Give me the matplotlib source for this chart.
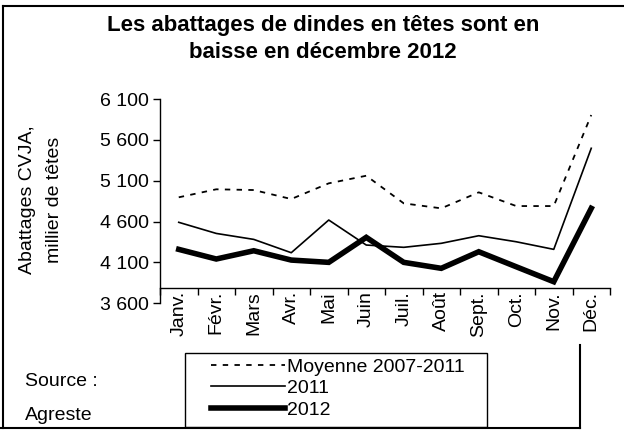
import matplotlib
matplotlib.use("Agg")
import matplotlib.pyplot as plt
from matplotlib.lines import Line2D
import numpy as np

months = ["Janv.", "Févr.", "Mars", "Avr.", "Mai", "Juin", "Juil.", "Août",
          "Sept.", "Oct.", "Nov.", "Déc."]
moyenne = [4897, 4995, 4986, 4876, 5068, 5161, 4823, 4762, 4958, 4790, 4790, 5904]
y2011 = [4591, 4455, 4382, 4219, 4619, 4313, 4285, 4334, 4427, 4353, 4260, 5497]
y2012 = [4260, 4142, 4243, 4129, 4101, 4407, 4101, 4028, 4231, 4047, 3864, 4762]
yticks = [3600, 4100, 4600, 5100, 5600, 6100]
ytick_labels = ["3 600", "4 100", "4 600", "5 100", "5 600", "6 100"]

plt.rcParams['font.family'] = ['Liberation Sans', 'DejaVu Sans']

W, H = 624, 433
fig = plt.figure(figsize=(W / 100, H / 100), dpi=100)

def fx(px):
    return px / W

def fy(py):
    return 1 - py / H

ax = fig.add_axes([fx(160), fy(303.3), fx(610) - fx(160), fy(99) - fy(303.3)])
for s in ['top', 'right']:
    ax.spines[s].set_visible(False)
ax.spines['bottom'].set_position(('data', 3783))
ax.spines['left'].set_linewidth(1)
ax.spines['bottom'].set_linewidth(1)

x = np.arange(len(months))
ax.plot(x, moyenne, color='black', lw=1.3, ls=(0, (3, 3.5)), label="Moyenne 2007-2011")
ax.plot(x, y2011, color='black', lw=1.2, label="2011")
ax.plot(x, y2012, color='black', lw=4, label="2012", solid_joinstyle='miter')

ax.set_xlim(-0.5, len(months) - 0.5)
ax.set_ylim(3600, 6100)
ax.set_yticks(yticks, labels=ytick_labels)
ax.set_xticks(x, labels=months)
ax.set_xticks(np.arange(len(months) + 1) - 0.5, minor=True)
ax.tick_params(axis='x', which='major', length=0, pad=2, labelrotation=90, labelsize=14)
ax.tick_params(axis='x', which='minor', length=5, width=1, direction='out')
ax.tick_params(axis='y', length=5, width=1, direction='out', pad=3, labelsize=14)

fig.text(fx(323), fy(39), "Les abattages de dindes en têtes sont en\nbaisse en décembre 2012",
         ha='center', va='center', fontsize=16, fontweight='bold', linespacing=1.35)

fig.text(fx(41), fy(200), "Abattages CVJA,\nmillier de têtes", rotation=90,
         ha='center', va='center', fontsize=14, linespacing=1.75, multialignment='center')

fig.text(fx(25), fy(381), "Source :", ha='left', va='center', fontsize=14)
fig.text(fx(25), fy(415), "Agreste", ha='left', va='center', fontsize=14)

# legend frame
fig.patches.append(plt.Rectangle((fx(185), fy(427)), fx(487) - fx(185), fy(353) - fy(427),
                                 transform=fig.transFigure, fill=False, edgecolor='black', lw=1))
leg = fig.legend(loc='upper left', bbox_to_anchor=(fx(211), fy(358)), frameon=False,
                 fontsize=14, handlelength=3.8, handletextpad=0.1, labelspacing=0.2,
                 borderpad=0, borderaxespad=0)

# outer frame
fig.add_artist(Line2D([fx(3), fx(W)], [fy(6), fy(6)], transform=fig.transFigure, color='black', lw=1.5))
fig.add_artist(Line2D([fx(3), fx(3)], [fy(6), fy(428)], transform=fig.transFigure, color='black', lw=1.5))
fig.add_artist(Line2D([fx(0), fx(580)], [fy(428), fy(428)], transform=fig.transFigure, color='black', lw=1.5))
fig.add_artist(Line2D([fx(580), fx(580)], [fy(345), fy(428)], transform=fig.transFigure, color='black', lw=1.5))

fig.savefig("out.png", dpi=100)
